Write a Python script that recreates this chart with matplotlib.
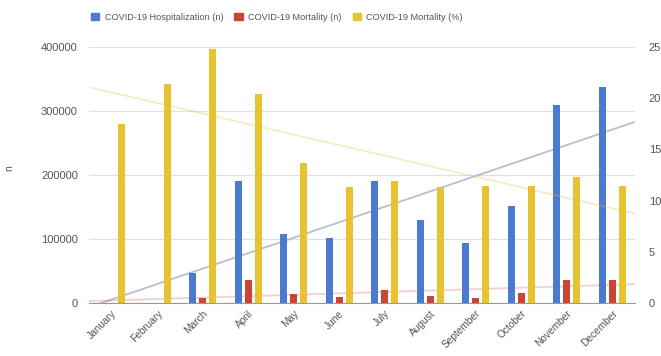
import numpy as np
import matplotlib
matplotlib.use("Agg")
import matplotlib.pyplot as plt
from matplotlib.patches import Patch

plt.rcParams["font.family"] = ["Liberation Sans", "DejaVu Sans"]

# Data
months = ["January", "February", "March", "April", "May", "June", "July",
          "August", "September", "October", "November", "December"]
hosp_n = [0, 0, 47000, 190000, 107000, 102000, 190000, 130000, 94000, 151000, 310000, 337000]
mort_n = [0, 0, 8000, 36000, 14000, 9000, 20000, 11000, 8000, 15000, 36000, 36000]
mort_pct = [17.5, 21.4, 24.8, 20.4, 13.7, 11.3, 11.9, 11.3, 11.4, 11.4, 12.3, 11.4]

c_blue = "#4a7bd0"
c_red = "#cc4433"
c_yellow = "#e9c232"
txt = "#555555"

fig = plt.figure(figsize=(6.61, 3.56), dpi=100)
ax = fig.add_axes([0.1346, 0.149, 0.826, 0.719])
ax2 = ax.twinx()

x = np.arange(len(months))
w = 0.155
off = 0.22

ax.bar(x - off, hosp_n, w, color=c_blue, zorder=3)
ax.bar(x, mort_n, w, color=c_red, zorder=3)
ax2.bar(x + off, mort_pct, w, color=c_yellow, zorder=3)

# linear trendlines across the chart area
xs = np.array([-0.5, len(months) - 0.5])
trend = [(ax, hosp_n, "#a9adc6", 0.8), (ax, mort_n, c_red, 0.25), (ax2, mort_pct, c_yellow, 0.3)]
for a, vals, col, al in trend:
    k, b = np.polyfit(x, vals, 1)
    a.plot(xs, k * xs + b, color=col, alpha=al, lw=1.3, zorder=2)

ax.set_xlim(-0.5, len(months) - 0.5)
ax.set_ylim(0, 400000)
ax2.set_ylim(0, 25)
ax.set_yticks([0, 100000, 200000, 300000, 400000])
ax2.set_yticks([0, 5, 10, 15, 20, 25])
ax.grid(axis="y", color="#e0e0e0", lw=0.9, zorder=0)
ax.set_axisbelow(True)

for a in (ax, ax2):
    for s in a.spines.values():
        s.set_visible(False)
ax.spines["bottom"].set_visible(True)
ax.spines["bottom"].set_color("#999999")

ax.tick_params(axis="y", length=0, pad=8, labelsize=8, labelcolor=txt)
ax2.tick_params(axis="y", length=0, pad=10, labelsize=8, labelcolor=txt)
ax.set_xticks(x)
ax.set_xticklabels(months, rotation=45, ha="right", rotation_mode="anchor",
                   fontsize=7.3, color=txt)
ax.tick_params(axis="x", length=0, pad=4)

fig.text(9 / 661, 1 - 168 / 356, "n", rotation=90, fontsize=7.5, color=txt,
         ha="center", va="center")

handles = [Patch(color=c_blue), Patch(color=c_red), Patch(color=c_yellow)]
labels = ["COVID-19 Hospitalization (n)", "COVID-19 Mortality (n)", "COVID-19 Mortality (%)"]
fig.legend(handles, labels, loc="center", bbox_to_anchor=(277 / 661, 1 - 17 / 356),
           ncol=3, frameon=False, fontsize=6.6, handlelength=0.9, handleheight=0.9,
           handletextpad=0.6, columnspacing=1.2, labelcolor=txt)

fig.savefig("out.png", dpi=100)
